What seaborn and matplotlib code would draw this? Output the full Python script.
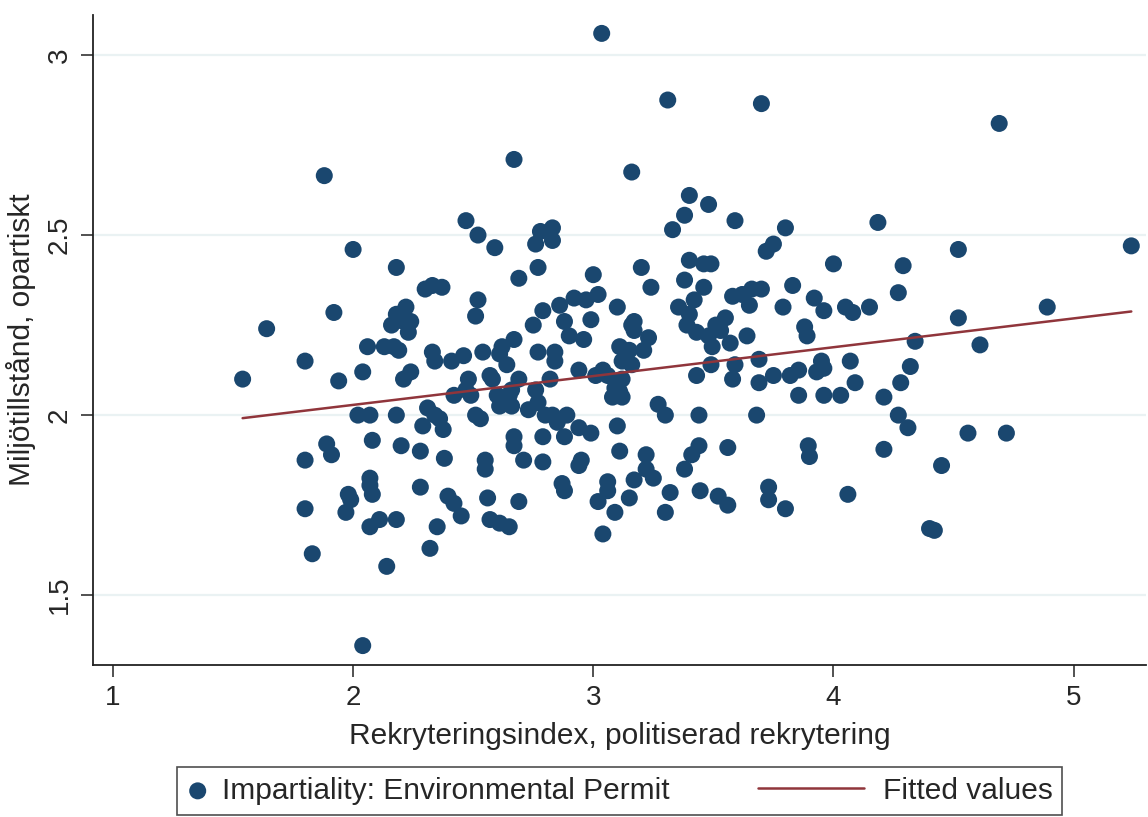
import numpy as np
import pandas as pd
import matplotlib
matplotlib.use("Agg")
import matplotlib.pyplot as plt
from matplotlib.lines import Line2D
from matplotlib.legend_handler import HandlerLine2D
import seaborn as sns

# rekryteringsindex (x) and miljötillstånd (y)
rekrytering = [
    1.54, 1.64, 1.80, 1.80, 1.80, 1.83, 1.88, 1.92, 1.94, 1.89, 1.91, 2.00, 1.98, 1.99, 1.97,
    2.02, 2.04, 2.06, 2.07, 2.07, 2.07, 2.08, 2.07, 2.08, 2.04, 2.14, 2.11, 2.18, 2.18, 2.18,
    2.20, 2.13, 2.16, 2.18, 2.21, 2.22, 2.23, 2.19, 2.21, 2.24, 2.17, 2.24, 2.29, 2.30, 2.33,
    2.37, 2.28, 2.28, 2.32, 2.35, 2.33, 2.34, 2.31, 2.34, 2.36, 2.375, 2.38, 2.395, 2.42, 2.45,
    2.42, 2.41, 2.47, 2.46, 2.48, 2.52, 2.51, 2.52, 2.47, 2.49, 2.51, 2.53, 2.55, 2.55, 2.56,
    2.57, 2.59, 2.54, 2.57, 2.58, 2.60, 2.61, 2.61, 2.62, 2.64, 2.61, 2.65, 2.65, 2.66, 2.67,
    2.67, 2.69, 2.66, 2.67, 2.67, 2.69, 2.71, 2.69, 2.73, 2.76, 2.77, 2.78, 2.75, 2.77, 2.76,
    2.77, 2.80, 2.79, 2.79, 2.79, 2.82, 2.83, 2.83, 2.84, 2.84, 2.83, 2.85, 2.86, 2.87, 2.88,
    2.88, 2.90, 2.89, 2.88, 2.92, 2.94, 2.94, 2.95, 2.94, 2.96, 2.97, 2.99, 2.99, 3.00, 3.02,
    3.035, 3.01, 3.02, 3.04, 3.06, 3.06, 3.04, 3.06, 3.08, 3.09, 3.09, 3.10, 3.10, 3.11, 3.12,
    3.11, 3.11, 3.12, 3.12, 3.15, 3.16, 3.16, 3.16, 3.17, 3.17, 3.15, 3.17, 3.20, 3.21, 3.22,
    3.22, 3.23, 3.24, 3.25, 3.27, 3.30, 3.30, 3.31, 3.32, 3.33, 3.355, 3.38, 3.38, 3.38, 3.39,
    3.40, 3.40, 3.40, 3.41, 3.42, 3.43, 3.43, 3.44, 3.44, 3.445, 3.46, 3.46, 3.48, 3.48, 3.49,
    3.49, 3.495, 3.51, 3.52, 3.53, 3.55, 3.56, 3.56, 3.57, 3.58, 3.58, 3.59, 3.59, 3.62, 3.64,
    3.65, 3.66, 3.68, 3.69, 3.69, 3.70, 3.70, 3.72, 3.73, 3.73, 3.75, 3.75, 3.79, 3.80, 3.80,
    3.82, 3.83, 3.855, 3.855, 3.88, 3.89, 3.895, 3.90, 3.92, 3.93, 3.95, 3.96, 3.96, 3.96, 4.00,
    4.03, 4.05, 4.06, 4.07, 4.08, 4.09, 4.15, 4.185, 4.21, 4.21, 4.27, 4.28, 4.27, 4.29, 4.31,
    4.32, 4.34, 4.40, 4.42, 4.45, 4.52, 4.52, 4.56, 4.61, 4.69, 4.72, 4.89, 5.24,
]
miljo = [
    2.10, 2.24, 2.15, 1.875, 1.74, 1.615, 2.665, 2.285, 2.095, 1.92, 1.89, 2.46, 1.78, 1.765, 1.73,
    2.00, 2.12, 2.19, 2.00, 1.825, 1.805, 1.78, 1.69, 1.93, 1.36, 1.58, 1.71, 2.41, 2.00, 1.71,
    1.915, 2.19, 2.25, 2.28, 2.26, 2.30, 2.23, 2.18, 2.10, 2.12, 2.19, 2.26, 1.97, 2.35, 2.36,
    2.355, 1.90, 1.80, 1.63, 1.69, 2.175, 2.15, 2.02, 2.00, 1.99, 1.96, 1.88, 1.775, 1.755, 1.72,
    2.055, 2.15, 2.54, 2.165, 2.10, 2.32, 2.275, 2.50, 2.07, 2.055, 2.00, 1.99, 1.85, 1.875, 1.77,
    1.71, 2.465, 2.175, 2.11, 2.10, 2.055, 2.025, 2.17, 2.19, 2.14, 1.70, 1.69, 2.055, 2.07, 2.71,
    2.21, 1.76, 2.025, 1.94, 1.915, 2.10, 1.875, 2.38, 2.015, 2.475, 2.41, 2.51, 2.25, 2.175, 2.07,
    2.035, 2.00, 1.94, 1.87, 2.29, 2.10, 2.52, 2.485, 2.175, 2.15, 2.00, 1.98, 2.305, 1.81, 1.79,
    2.26, 2.22, 2.00, 1.94, 2.325, 2.125, 1.86, 1.875, 1.965, 2.21, 2.32, 2.265, 1.95, 2.39, 2.335,
    3.06, 2.11, 1.76, 1.67, 1.815, 1.79, 2.125, 2.11, 2.05, 1.73, 2.075, 2.30, 1.97, 2.19, 2.10,
    2.065, 1.90, 2.05, 2.15, 2.18, 2.25, 2.675, 2.14, 2.26, 2.235, 1.77, 1.82, 2.41, 2.18, 1.89,
    1.85, 2.215, 2.355, 1.825, 2.03, 2.00, 1.73, 2.875, 1.785, 2.515, 2.30, 2.375, 1.85, 2.555, 2.25,
    2.28, 2.61, 2.43, 1.89, 2.32, 2.11, 2.23, 2.00, 1.915, 1.79, 2.355, 2.42, 2.585, 2.22, 2.42,
    2.14, 2.19, 2.25, 1.775, 2.235, 2.27, 1.75, 1.91, 2.20, 2.10, 2.33, 2.54, 2.14, 2.335, 2.22,
    2.305, 2.35, 2.00, 2.155, 2.09, 2.865, 2.35, 2.455, 1.80, 1.765, 2.475, 2.11, 2.30, 2.52, 1.74,
    2.11, 2.36, 2.055, 2.125, 2.245, 2.22, 1.915, 1.885, 2.325, 2.12, 2.15, 2.13, 2.055, 2.29, 2.42,
    2.055, 2.30, 1.78, 2.15, 2.285, 2.09, 2.30, 2.535, 2.05, 1.905, 2.34, 2.09, 2.00, 2.415, 1.965,
    2.135, 2.205, 1.685, 1.68, 1.86, 2.46, 2.27, 1.95, 2.195, 2.81, 1.95, 2.30, 2.47,
]

df = pd.DataFrame({"x": rekrytering, "y": miljo})

# linear fit, like Stata's lfit
slope, intercept = np.polyfit(df["x"], df["y"], 1)
fit_x = np.array([df["x"].min(), df["x"].max()])
fit = pd.DataFrame({"x": fit_x, "y": intercept + slope * fit_x})

navy = "#1a476f"
maroon = "#90353b"


class LongLine(HandlerLine2D):
    # Stata draws the fitted-values key much longer than the marker key
    def create_artists(self, legend, orig_handle, xdescent, ydescent,
                       width, height, fontsize, trans):
        yc = height / 2 - ydescent
        ln = Line2D([-4.3 * width - xdescent, 0.75 * width - xdescent], [yc, yc],
                    color=maroon, lw=1.8)
        ln.set_transform(trans)
        return [ln]


sns.set_style("white")
plt.rcParams["font.family"] = ["Liberation Sans", "DejaVu Sans"]

fig = plt.figure(figsize=(11.48, 8.17), dpi=100)
ax = fig.add_axes([0.081, 0.186, 0.917, 0.7956])

for yv in [1.5, 2, 2.5, 3]:
    ax.axhline(yv, color="#eaf2f3", lw=1.6, zorder=0)

sns.scatterplot(data=df, x="x", y="y", ax=ax, s=150, color=navy,
                edgecolor="none", label="Impartiality: Environmental Permit", zorder=2)
sns.lineplot(data=fit, x="x", y="y", ax=ax, color=maroon, lw=1.8,
             label="Fitted values", zorder=3)

ax.set_xlim(0.917, 5.30)
ax.set_ylim(1.306, 3.111)
ax.set_xticks([1, 2, 3, 4, 5])
ax.set_yticks([1.5, 2, 2.5, 3])
ax.set_yticklabels(["1.5", "2", "2.5", "3"], rotation=90, va="center")
ax.tick_params(axis="both", labelsize=20, length=8.5, width=1.1, color="#222222",
               direction="out", bottom=True, left=True, pad=6)
ax.set_xlabel("Rekryteringsindex, politiserad rekrytering", fontsize=21.5, labelpad=8)
ax.set_ylabel("Miljötillstånd, opartiskt", fontsize=21.5, labelpad=8)

for side in ["top", "right"]:
    ax.spines[side].set_visible(False)
for side in ["left", "bottom"]:
    ax.spines[side].set_color("#222222")
    ax.spines[side].set_linewidth(1.3)

handles, labels = ax.get_legend_handles_labels()
ax.legend_.remove()
leg = fig.legend(handles, labels, loc="lower center", bbox_to_anchor=(0.54, 0.003),
                 ncol=2, fontsize=21.5, frameon=True, fancybox=False,
                 edgecolor="#222222", columnspacing=6.0, handlelength=0.7,
                 borderpad=0.33, handletextpad=0.45, borderaxespad=0,
                 handler_map={handles[1]: LongLine()})
leg.get_frame().set_linewidth(1.2)

fig.savefig("out.png", dpi=100, facecolor="white")
